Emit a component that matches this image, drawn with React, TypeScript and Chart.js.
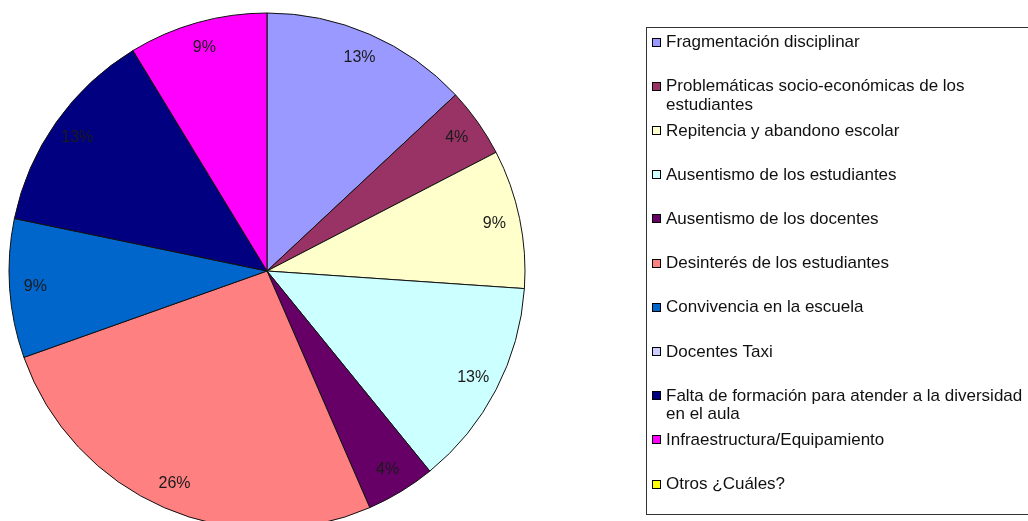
import React, { useEffect, useRef } from "react";
import { Chart, registerables } from "chart.js";

Chart.register(...registerables);

const categories: string[] = [
  "Fragmentación disciplinar",
  "Problemáticas socio-económicas de los estudiantes",
  "Repitencia y abandono escolar",
  "Ausentismo de los estudiantes",
  "Ausentismo de los docentes",
  "Desinterés de los estudiantes",
  "Convivencia en la escuela",
  "Docentes Taxi",
  "Falta de formación para atender a la diversidad en el aula",
  "Infraestructura/Equipamiento",
  "Otros ¿Cuáles?",
];

const counts: number[] = [3, 1, 2, 3, 1, 6, 2, 0, 3, 2, 0];

const sliceColors: string[] = [
  "#9999FF",
  "#993366",
  "#FFFFCC",
  "#CCFFFF",
  "#660066",
  "#FF8080",
  "#0066CC",
  "#CCCCFF",
  "#000080",
  "#FF00FF",
  "#FFFF00",
];

const FONT = "'Liberation Sans', Arial, sans-serif";

const labelPlugin = {
  id: "pctLabels",
  afterDatasetsDraw(chart: any) {
    const ctx = chart.ctx;
    const meta = chart.getDatasetMeta(0);
    const total = counts.reduce((a, b) => a + b, 0);
    ctx.save();
    ctx.font = `16px ${FONT}`;
    ctx.fillStyle = "#1a1a1a";
    ctx.textAlign = "center";
    ctx.textBaseline = "middle";
    meta.data.forEach((arc: any, i: number) => {
      const v = counts[i];
      if (!v) return;
      const p = arc.getProps(["x", "y", "startAngle", "endAngle", "outerRadius"], true);
      const mid = (p.startAngle + p.endAngle) / 2;
      const r = p.outerRadius * 0.9;
      const x = p.x + Math.cos(mid) * r;
      const y = p.y + Math.sin(mid) * r;
      ctx.fillText(Math.round((v / total) * 100) + "%", x, y);
    });
    ctx.restore();
  },
};

const legendPlugin = {
  id: "boxLegend",
  afterDraw(chart: any) {
    const ctx = chart.ctx;
    ctx.save();
    ctx.strokeStyle = "#333333";
    ctx.lineWidth = 1;
    ctx.strokeRect(646.5, 27.5, 420, 487);
    ctx.font = `17px ${FONT}`;
    ctx.textBaseline = "middle";
    ctx.textAlign = "left";
    const maxW = 366;
    categories.forEach((label, i) => {
      const y0 = 42.5 + i * 44.2;
      ctx.fillStyle = sliceColors[i];
      ctx.fillRect(653, Math.round(y0 - 4), 7, 7);
      ctx.strokeStyle = "#000000";
      ctx.strokeRect(652.5, Math.round(y0 - 4) - 0.5, 8, 8);
      const words = label.split(" ");
      const lines: string[] = [];
      let cur = "";
      words.forEach((w) => {
        const test = cur ? cur + " " + w : w;
        if (ctx.measureText(test).width > maxW && cur) {
          lines.push(cur);
          cur = w;
        } else {
          cur = test;
        }
      });
      if (cur) lines.push(cur);
      ctx.fillStyle = "#111111";
      lines.forEach((ln, j) => {
        ctx.fillText(ln, 666, y0 + j * 18.5);
      });
    });
    ctx.restore();
  },
};

export default function App() {
  const ref = useRef<HTMLCanvasElement | null>(null);
  useEffect(() => {
    if (!ref.current) return;
    const chart = new Chart(ref.current, {
      type: "pie",
      data: {
        labels: categories,
        datasets: [
          {
            data: counts,
            backgroundColor: sliceColors,
            borderColor: "#111111",
            borderWidth: 1,
          },
        ],
      },
      options: {
        responsive: false,
        animation: false,
        radius: 258,
        layout: { padding: { left: 0, top: 0, right: 494, bottom: 18 } },
        plugins: {
          legend: { display: false },
          tooltip: { enabled: false },
        },
      } as any,
      plugins: [labelPlugin, legendPlugin],
    });
    return () => chart.destroy();
  }, []);
  return (
    <div
      style={{
        position: "fixed",
        left: 0,
        top: 0,
        width: 1028,
        height: 521,
        overflow: "hidden",
        background: "#ffffff",
      }}
    >
      <canvas ref={ref} width={1028} height={560} style={{ display: "block" }} />
    </div>
  );
}
